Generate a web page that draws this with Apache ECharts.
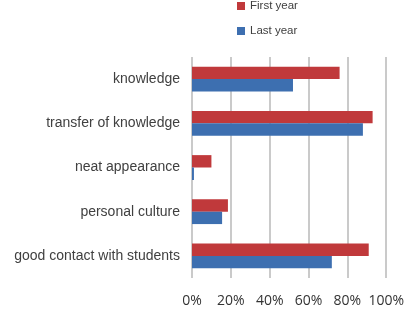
<!DOCTYPE html>
<html>
<head>
<meta charset="utf-8">
<script src="https://cdn.jsdelivr.net/npm/echarts@6/dist/echarts.min.js"></script>
<style>
  html, body { margin: 0; padding: 0; background: #ffffff; }
  #chart { width: 407px; height: 310px; }
</style>
</head>
<body>
<div id="chart"></div>
<script>
// categories, top to bottom
const categories = ['knowledge', 'transfer of knowledge', 'neat appearance', 'personal culture', 'good contact with students']
const firstYear = [76, 93, 10, 18.5, 91]
const lastYear = [52, 88, 1, 15.5, 72]
const xTicks = [0, 20, 40, 60, 80, 100]

const chart = echarts.init(document.getElementById('chart'))
chart.setOption({
  animation: false,
  legend: {
    orient: 'vertical',
    left: 237,
    top: 0,
    padding: 0,
    itemWidth: 8,
    itemHeight: 8,
    itemGap: 13,
    icon: 'rect',
    textStyle: { fontFamily: 'Liberation Sans', fontSize: 11.5, color: '#404040' },
    data: ['First year', 'Last year']
  },
  grid: {
    left: 192,
    right: 20,
    top: 57,
    bottom: 32
  },
  xAxis: {
    type: 'value',
    min: 0,
    max: 100,
    interval: 20,
    axisLine: { show: false },
    axisTick: { show: false },
    splitLine: { lineStyle: { color: '#b8b8b8', width: 1.5 } },
    axisLabel: {
      margin: 16,
      fontFamily: 'Open Sans',
      fontSize: 14,
      color: '#333333',
      formatter: v => xTicks.includes(v) ? v + '%' : ''
    }
  },
  yAxis: {
    type: 'category',
    inverse: true,
    data: categories,
    axisLine: { show: false },
    axisTick: { show: false },
    axisLabel: {
      margin: 12,
      padding: [0, 0, 10, 0],
      fontFamily: 'Liberation Sans',
      fontSize: 14,
      color: '#404040'
    }
  },
  series: [
    {
      name: 'First year',
      type: 'bar',
      data: firstYear,
      barGap: '0%',
      barCategoryGap: '44%',
      itemStyle: { color: '#c0393b' }
    },
    {
      name: 'Last year',
      type: 'bar',
      data: lastYear,
      itemStyle: { color: '#3d6fb0' }
    }
  ]
})
</script>
</body>
</html>
